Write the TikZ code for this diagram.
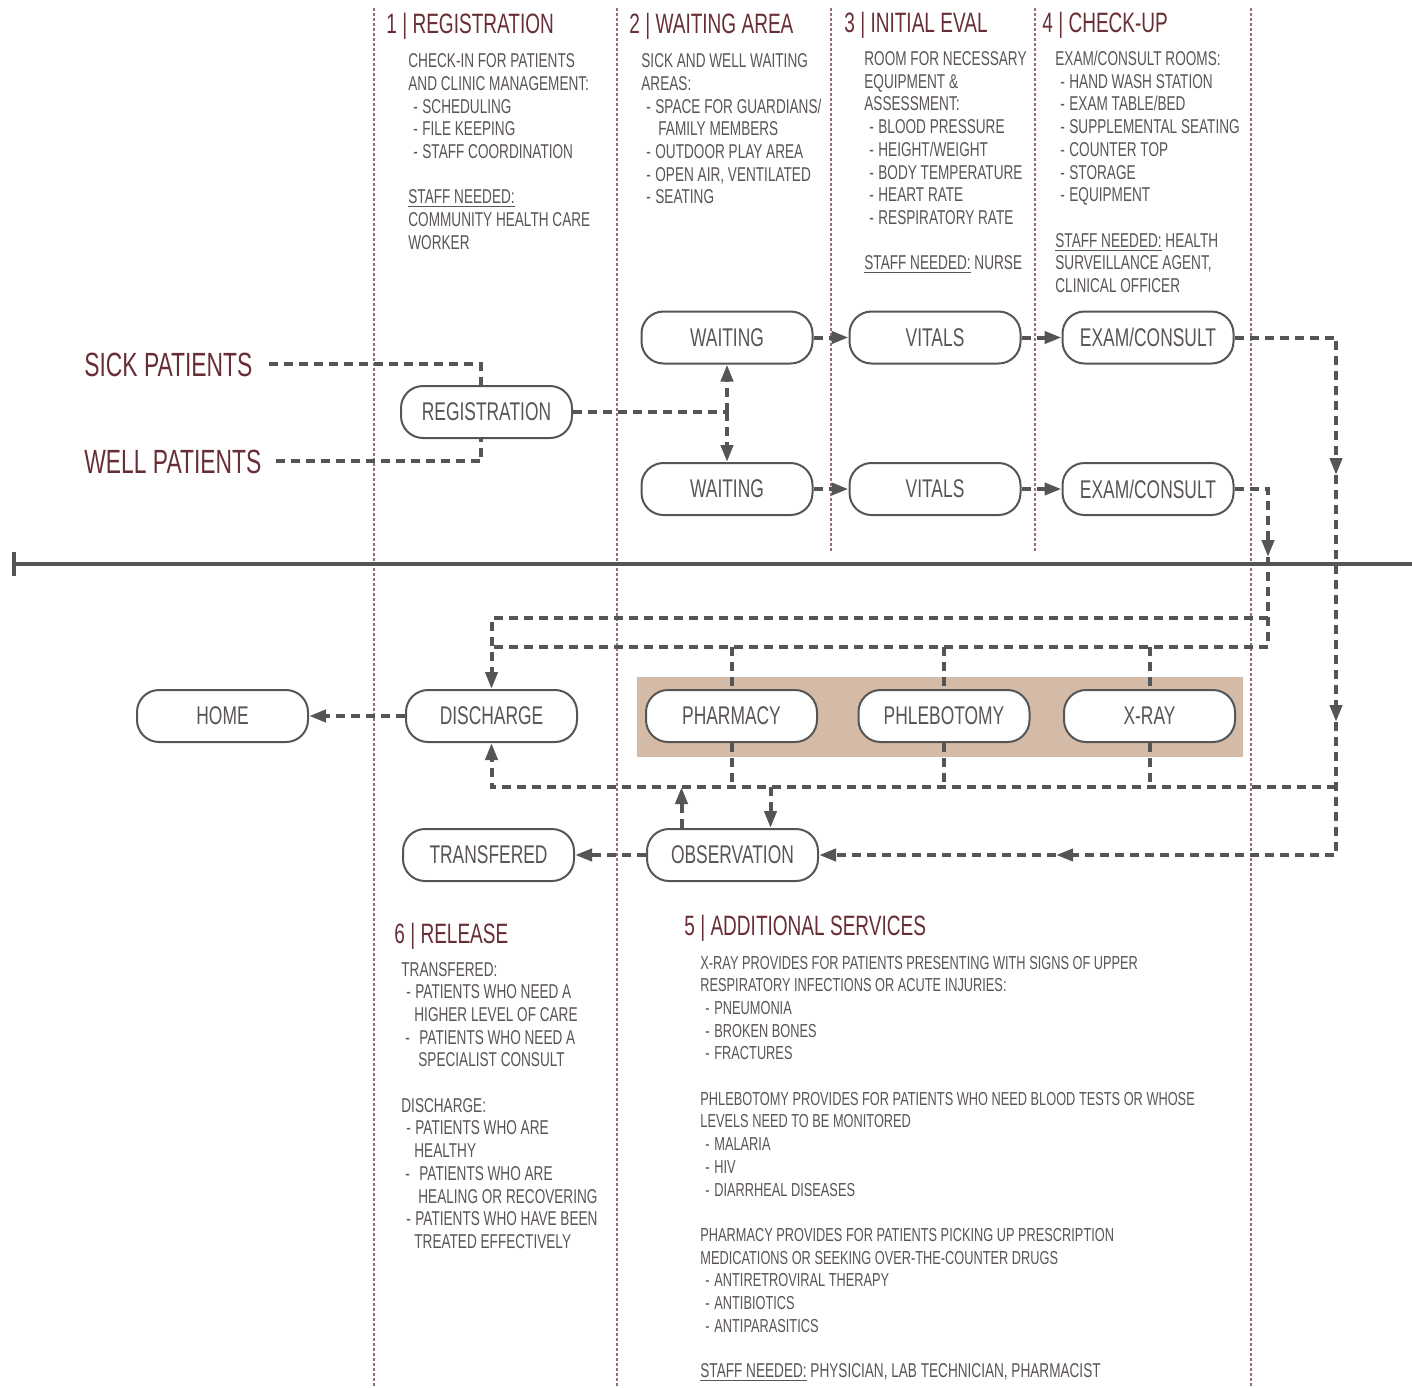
\documentclass[tikz,border=0pt]{standalone}
\usepackage{fontspec}
\setmainfont{Liberation Sans}[FakeStretch=0.68]
\usetikzlibrary{arrows.meta}

\definecolor{inkgray}{RGB}{90,84,84}
\definecolor{wine}{RGB}{104,46,54}
\definecolor{linegray}{RGB}{85,85,85}
\definecolor{divider}{RGB}{150,112,116}
\definecolor{sand}{RGB}{212,187,167}

% text helpers
\newcommand\blk[1]{\begin{tabular}[t]{@{}l@{}}#1\end{tabular}}
\newcommand\itm[1]{\makebox[7pt][l]{\hspace{2.5pt}-}#1}
\newcommand\itmw[1]{\makebox[9pt][l]{\hspace{2pt}-}#1}
\newcommand\cont[2][7pt]{\hspace*{#1}#2}
\newcommand\staff{\underline{STAFF NEEDED:}}

\tikzset{
  stage/.style={draw=linegray, line width=1pt, fill=white, rounded corners=11pt,
    minimum width=85.5pt, minimum height=26pt, inner sep=0pt, text=inkgray,
    font=\fontsize{12.8}{15}\selectfont},
  head/.style={anchor=base west, inner sep=0pt, text=wine,
    font=\fontsize{14}{16}\selectfont},
  body/.style={anchor=base west, inner sep=0pt, text=inkgray,
    font=\fontsize{10}{11.35}\selectfont},
  side/.style={anchor=base west, inner sep=0pt, text=wine,
    font=\fontsize{16.8}{19}\selectfont},
  flow/.style={draw=linegray, line width=2pt, dash pattern=on 4.5pt off 3pt},
  tip/.style={-{Triangle[length=8.5pt,width=6pt]}},
  divline/.style={draw=divider, line width=0.75pt, dash pattern=on 1.5pt off 1pt},
}

\begin{document}
\begin{tikzpicture}[x=0.5pt, y=-0.5pt]
\useasboundingbox (0,0) rectangle (1412,1387);

% shaded band behind the additional services
\fill[sand] (637,677) rectangle (1243,757);

% column dividers
\draw[divline] (374,8) -- (374,1387);
\draw[divline] (617,8) -- (617,1387);
\draw[divline] (831,8) -- (831,552);
\draw[divline] (1035,8) -- (1035,552);
\draw[divline] (1251,8) -- (1251,1387);

% horizontal separator
\draw[draw=linegray, line width=2pt] (14,564) -- (1412,564);
\draw[draw=linegray, line width=2pt] (14,552) -- (14,576);

% column headings
\node[head] at (386,33) {1 | REGISTRATION};
\node[head] at (629,33) {2 | WAITING AREA};
\node[head] at (844,32) {3 | INITIAL EVAL};
\node[head] at (1042,32) {4 | CHECK-UP};
\node[head] at (684,935) {5 | ADDITIONAL SERVICES};
\node[head] at (394,943) {6 | RELEASE};

% column descriptions
\node[body] (t1) at (408,67.6) {\blk{CHECK-IN FOR PATIENTS\\ AND CLINIC MANAGEMENT:\\
  \itm{SCHEDULING}\\ \itm{FILE KEEPING}\\ \itm{STAFF COORDINATION}\\ \\
  \staff\\ COMMUNITY HEALTH CARE\\ WORKER}};
\node[body] (t2) at (641,67.6) {\blk{SICK AND WELL WAITING\\ AREAS:\\
  \itm{SPACE FOR GUARDIANS/}\\ \cont[8.5pt]{FAMILY MEMBERS}\\ \itm{OUTDOOR PLAY AREA}\\
  \itm{OPEN AIR, VENTILATED}\\ \itm{SEATING}}};
\node[body] (t3) at (864,65.5) {\blk{ROOM FOR NECESSARY\\ EQUIPMENT \&\\ ASSESSMENT:\\
  \itm{BLOOD PRESSURE}\\ \itm{HEIGHT/WEIGHT}\\ \itm{BODY TEMPERATURE}\\
  \itm{HEART RATE}\\ \itm{RESPIRATORY RATE}\\ \\ \staff{} NURSE}};
\node[body] (t4) at (1055,65.5) {\blk{EXAM/CONSULT ROOMS:\\ \itm{HAND WASH STATION}\\
  \itm{EXAM TABLE/BED}\\ \itm{SUPPLEMENTAL SEATING}\\ \itm{COUNTER TOP}\\
  \itm{STORAGE}\\ \itm{EQUIPMENT}\\ \\ \staff{} HEALTH\\ SURVEILLANCE AGENT,\\
  CLINICAL OFFICER}};
\node[body] (t6) at (401,976) {\blk{TRANSFERED:\\ \itm{PATIENTS WHO NEED A}\\
  \cont[6.5pt]{HIGHER LEVEL OF CARE}\\ \itmw{PATIENTS WHO NEED A}\\
  \cont[8.5pt]{SPECIALIST CONSULT}\\ \\ DISCHARGE:\\ \itm{PATIENTS WHO ARE}\\
  \cont[6.5pt]{HEALTHY}\\ \itmw{PATIENTS WHO ARE}\\ \cont[8.5pt]{HEALING OR RECOVERING}\\
  \itm{PATIENTS WHO HAVE BEEN}\\ \cont[6.5pt]{TREATED EFFECTIVELY}}};
\node[body, font=\fontsize{9.4}{11.35}\selectfont] (t5) at (700,969) {\blk{X-RAY PROVIDES FOR PATIENTS PRESENTING WITH SIGNS OF UPPER\\
  RESPIRATORY INFECTIONS OR ACUTE INJURIES:\\ \itm{PNEUMONIA}\\ \itm{BROKEN BONES}\\
  \itm{FRACTURES}\\ \\
  PHLEBOTOMY PROVIDES FOR PATIENTS WHO NEED BLOOD TESTS OR WHOSE\\
  LEVELS NEED TO BE MONITORED\\ \itm{MALARIA}\\ \itm{HIV}\\ \itm{DIARRHEAL DISEASES}\\ \\
  PHARMACY PROVIDES FOR PATIENTS PICKING UP PRESCRIPTION\\
  MEDICATIONS OR SEEKING OVER-THE-COUNTER DRUGS\\ \itm{ANTIRETROVIRAL THERAPY}\\
  \itm{ANTIBIOTICS}\\ \itm{ANTIPARASITICS}\\ \\
  {\fontsize{10}{11.35}\selectfont\staff{} PHYSICIAN, LAB TECHNICIAN, PHARMACIST}}};

% patient entry labels
\node[side] (sick) at (84,376) {SICK PATIENTS};
\node[side] (well) at (84,473) {WELL PATIENTS};

% stages
\node[stage] (reg) at (486.5,412) {REGISTRATION};
\node[stage] (w1) at (727,337.5) {WAITING};
\node[stage] (w2) at (727,489) {WAITING};
\node[stage] (v1) at (935,337.5) {VITALS};
\node[stage] (v2) at (935,489) {VITALS};
\node[stage] (e1) at (1148,337.5) {EXAM/CONSULT};
\node[stage] (e2) at (1148,489) {EXAM/CONSULT};
\node[stage] (home) at (222.5,716) {HOME};
\node[stage] (dis) at (491.5,716) {DISCHARGE};
\node[stage] (ph) at (731.5,716) {PHARMACY};
\node[stage] (pb) at (944,716) {PHLEBOTOMY};
\node[stage] (xr) at (1149.5,716) {X-RAY};
\node[stage] (trans) at (488.5,855) {TRANSFERED};
\node[stage] (obs) at (732.5,855) {OBSERVATION};

% entry into registration
\draw[flow] ([xshift=8pt]sick.east) -| ([xshift=-2.75pt]reg.north);
\draw[flow] ([xshift=7pt]well.east) -| ([xshift=-2.75pt]reg.south);

% registration to the two waiting areas
\coordinate (split) at (reg.east -| w1);
\draw[flow] (reg.east) -- (split);
\draw[flow,tip] (split) -- (w1.south);
\draw[flow,tip] (split) -- (w2.north);

% waiting -> vitals -> exam
\draw[flow,tip] (w1) -- (v1);
\draw[flow,tip] (v1) -- (e1);
\draw[flow,tip] (w2) -- (v2);
\draw[flow,tip] (v2) -- (e2);

% sick exam route down to observation
\coordinate (ra) at (1336,337.5);
\coordinate (rb) at (1336,475);
\coordinate (rc) at (1336,722);
\coordinate (rd) at (1336,855);
\coordinate (re) at (1056,855);
\draw[flow,tip] (e1.east) -- (ra) -- (rb);
\draw[flow,tip] (rb) -- (rc);
\draw[flow,tip] (rc) -- (rd) -- (re);
\draw[flow,tip] (re) -- (obs.east);

% well exam route to discharge and services
\coordinate (sa) at (1268,489);
\coordinate (sb) at (1268,557);
\coordinate (sc) at (1268,618);
\coordinate (sd) at (1268,647);
\draw[flow,tip] (e2.east) -- (sa) -- (sb);
\draw[flow] (sb) -- (sd);
\draw[flow,tip] (sc) -| (dis.north);
\draw[flow] (sd) -- (sd -| dis);
\draw[flow] (sd -| ph) -- (ph.north);
\draw[flow] (sd -| pb) -- (pb.north);
\draw[flow] (sd -| xr) -- (xr.north);

% services collector back to discharge
\coordinate (ca) at (1336,787);
\draw[flow,tip] (ca) -| (dis.south);
\draw[flow] (ph.south) -- (ph.south |- ca);
\draw[flow] (pb.south) -- (pb.south |- ca);
\draw[flow] (xr.south) -- (xr.south |- ca);

% observation exchanges
\coordinate (ou) at ([xshift=-25.5pt]obs.north);
\coordinate (od) at ([xshift=19pt]obs.north);
\draw[flow,tip] (ou) -- (ou |- ca);
\draw[flow,tip] (od |- ca) -- (od);

% release
\draw[flow,tip] (obs) -- (trans);
\draw[flow,tip] (dis) -- (home);
\end{tikzpicture}
\end{document}
